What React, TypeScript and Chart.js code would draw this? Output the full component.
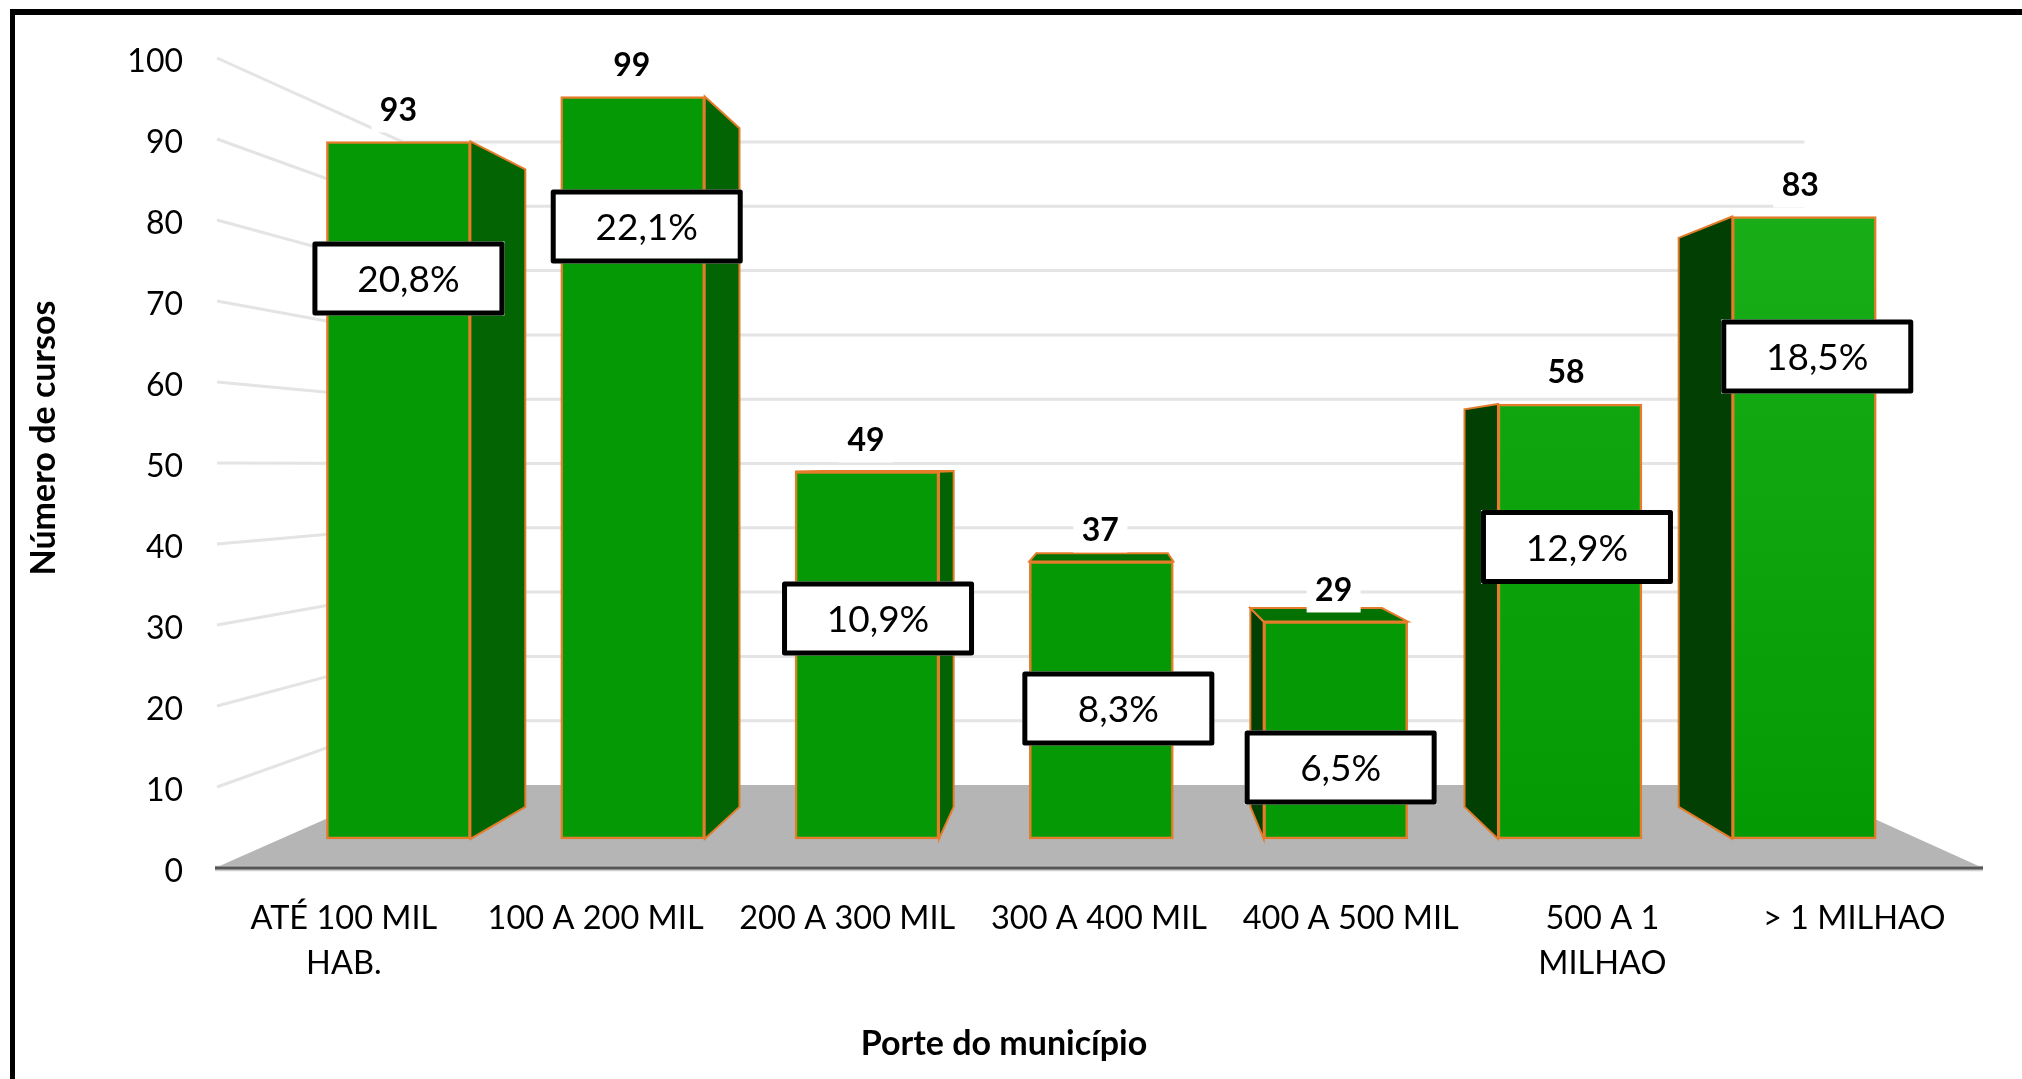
import React, { useEffect, useRef } from "react";
import { Chart, registerables } from "chart.js";

Chart.register(...registerables);

const categories = [["ATÉ 100 MIL", "HAB."], "100 A 200 MIL", "200 A 300 MIL", "300 A 400 MIL", "400 A 500 MIL", ["500 A 1", "MILHAO"], "> 1 MILHAO"];
const cursos = [93, 99, 49, 37, 29, 58, 83];
const percentuais = ["20,8%", "22,1%", "10,9%", "8,3%", "6,5%", "12,9%", "18,5%"];
const yTicks = [0, 10, 20, 30, 40, 50, 60, 70, 80, 90, 100];
const xTitle = "Porte do município";
const yTitle = "Número de cursos";

// layout of the labels relative to each bar's top centre
const boxDx = [10, 14, 11, 17, 5, 7, 13];
const boxDy = [137, 130, 147, 147, 146, 143, 140];
const valueDx = [0, -1, -1, -1, -2, -4, -4];

const FONT = "Lato, Carlito, 'Open Sans', sans-serif";
const VP = { x: 1109, y: 466 };
const BAR_DEPTH = 0.914;
const WALL_DEPTH = 0.79;
const ORANGE = "#e57c2a";

const proj = (x: number, y: number, f: number) => ({ x: VP.x + f * (x - VP.x), y: VP.y + f * (y - VP.y) });

const scenePlugin = {
  id: "scene",
  beforeDatasetsDraw(chart: any) {
    const { ctx, chartArea: a, scales } = chart;
    const yF = scales.y, yB = scales.yBack;
    const fl = a.left - 3, fr = a.right + 3;
    const fy0 = yF.getPixelForValue(0);
    const bl = proj(fl, fy0, WALL_DEPTH), br = proj(fr, fy0, WALL_DEPTH);
    ctx.save();
    // walls
    ctx.strokeStyle = "#e4e4e4";
    ctx.lineWidth = 3;
    yTicks.slice(1).forEach((v) => {
      const yb = yB.getPixelForValue(v);
      ctx.beginPath();
      ctx.moveTo(fl + 2, yF.getPixelForValue(v));
      ctx.lineTo(bl.x, yb);
      ctx.lineTo(br.x + 5, yb);
      ctx.stroke();
    });
    // floor
    ctx.fillStyle = "#b5b5b5";
    ctx.beginPath();
    ctx.moveTo(fl, fy0);
    ctx.lineTo(bl.x, yB.getPixelForValue(0));
    ctx.lineTo(br.x, yB.getPixelForValue(0));
    ctx.lineTo(fr, fy0);
    ctx.closePath();
    ctx.fill();
    ctx.strokeStyle = "#cfcfcf";
    ctx.lineWidth = 5.5;
    ctx.beginPath(); ctx.moveTo(fl, fy0 + 0.5); ctx.lineTo(fr, fy0 + 0.5); ctx.stroke();
    ctx.strokeStyle = "#555555";
    ctx.lineWidth = 3;
    ctx.beginPath(); ctx.moveTo(fl, fy0); ctx.lineTo(fr, fy0); ctx.stroke();
    // bar side faces
    const meta = chart.getDatasetMeta(0);
    meta.data.forEach((bar: any) => {
      const l = bar.x - bar.width / 2, r = bar.x + bar.width / 2, t = bar.y, b = bar.base;
      const face = (pts: { x: number; y: number }[], fill: string) => {
        ctx.beginPath();
        pts.forEach((p, i) => (i ? ctx.lineTo(p.x, p.y) : ctx.moveTo(p.x, p.y)));
        ctx.closePath();
        ctx.fillStyle = fill;
        ctx.fill();
        ctx.strokeStyle = ORANGE;
        ctx.lineWidth = 2;
        ctx.stroke();
      };
      if (r < VP.x) face([{ x: r, y: t }, proj(r, t, BAR_DEPTH), proj(r, b, BAR_DEPTH), { x: r, y: b }], "#036403");
      if (l > VP.x) face([{ x: l, y: t }, proj(l, t, BAR_DEPTH), proj(l, b, BAR_DEPTH), { x: l, y: b }], "#023f02");
      if (t > VP.y) face([{ x: l, y: t }, proj(l, t, BAR_DEPTH), proj(r, t, BAR_DEPTH), { x: r, y: t }], "#037203");
    });
    ctx.restore();
  },
  afterDatasetsDraw(chart: any) {
    const { ctx } = chart;
    const meta = chart.getDatasetMeta(0);
    ctx.save();
    ctx.textAlign = "center";
    ctx.textBaseline = "middle";
    meta.data.forEach((bar: any, i: number) => {
      // value label
      const vy = bar.y - 32;
      const vx = bar.x + valueDx[i];
      ctx.fillStyle = "#ffffff";
      ctx.fillRect(vx - 27, vy - 24, 54, 47);
      ctx.fillStyle = "#000000";
      ctx.font = `bold 32px ${FONT}`;
      ctx.fillText(String(cursos[i]), vx, vy + 1);
      // percentage box
      const cx = bar.x + boxDx[i], cy = bar.y + boxDy[i], w = 192, h = 74, lw = 5;
      ctx.fillStyle = "#ffffff";
      ctx.fillRect(cx - w / 2, cy - h / 2, w, h);
      ctx.strokeStyle = "#000000";
      ctx.lineWidth = lw;
      ctx.lineJoin = "round";
      ctx.strokeRect(cx - w / 2 + lw / 2, cy - h / 2 + lw / 2, w - lw, h - lw);
      ctx.fillStyle = "#000000";
      ctx.font = `37px ${FONT}`;
      ctx.fillText(percentuais[i], cx, cy + 2);
    });
    // axis titles
    ctx.font = `bold 34px ${FONT}`;
    ctx.fillText(xTitle, 1004, 1044);
    ctx.translate(44, 438);
    ctx.rotate(-Math.PI / 2);
    ctx.fillText(yTitle, 0, 0);
    ctx.restore();
  },
  beforeDraw(chart: any) {
    const { ctx, width, height } = chart;
    ctx.save();
    ctx.fillStyle = "#ffffff";
    ctx.fillRect(0, 0, width, height);
    ctx.fillStyle = "#000000";
    ctx.fillRect(10, 9, width - 10, 6);
    ctx.fillRect(10, 9, 5, height - 9);
    ctx.restore();
  },
};

export default function App() {
  const ref = useRef<HTMLCanvasElement>(null);
  useEffect(() => {
    document.body.style.margin = "0";
    const chart = new Chart(ref.current!, {
      type: "bar",
      data: {
        labels: categories as any,
        datasets: [
          {
            label: yTitle,
            data: cursos.map((v, i) => ({ x: i, y: v })) as any,
            xAxisID: "xBars",
            yAxisID: "yBars",
            barThickness: 144,
            borderWidth: 2.5,
            borderSkipped: false,
            borderColor: ORANGE,
            backgroundColor: (c: any) => {
              const el = c.element;
              if (!el || c.dataIndex < 5) return "#069906";
              const g = c.chart.ctx.createLinearGradient(0, el.y ?? 0, 0, el.base ?? 838);
              g.addColorStop(0, c.dataIndex === 6 ? "#20b520" : "#1ab01a");
              g.addColorStop(1, "#039a03");
              return g;
            },
          },
        ],
      },
      options: {
        responsive: false,
        animation: false,
        layout: { padding: { top: 58, right: 42, left: 0, bottom: 0 } },
        plugins: { legend: { display: false }, tooltip: { enabled: false }, title: { display: false } },
        scales: {
          x: {
            type: "category",
            offset: true,
            grid: { display: false },
            border: { display: false },
            ticks: { color: "#000", autoSkip: false, maxRotation: 0, minRotation: 0, padding: 20, font: { family: FONT, size: 32.5, lineHeight: 1.385 } },
            afterFit: (s: any) => { s.height = 211; },
          },
          y: {
            type: "linear",
            min: 0,
            max: 100,
            grid: { display: false },
            border: { display: false },
            ticks: { color: "#000", stepSize: 10, padding: 27, labelOffset: 4, font: { family: FONT, size: 32 } },
            afterFit: (s: any) => { s.width = 218; },
          },
          xBars: { type: "linear", display: false, offset: false, min: -0.770, max: 6.750, grid: { display: false } },
          yBars: { type: "linear", display: false, min: -3.87, max: 104.13, grid: { display: false } },
          yBack: { type: "linear", display: false, min: -12.908, max: 113.06, grid: { display: false } },
        },
      } as any,
      plugins: [scenePlugin],
    });
    return () => chart.destroy();
  }, []);
  return (
    <div style={{ position: "absolute", left: 0, top: 0, width: 2022, height: 1079 }}>
      <canvas ref={ref} width={2022} height={1079} style={{ display: "block" }} />
    </div>
  );
}
